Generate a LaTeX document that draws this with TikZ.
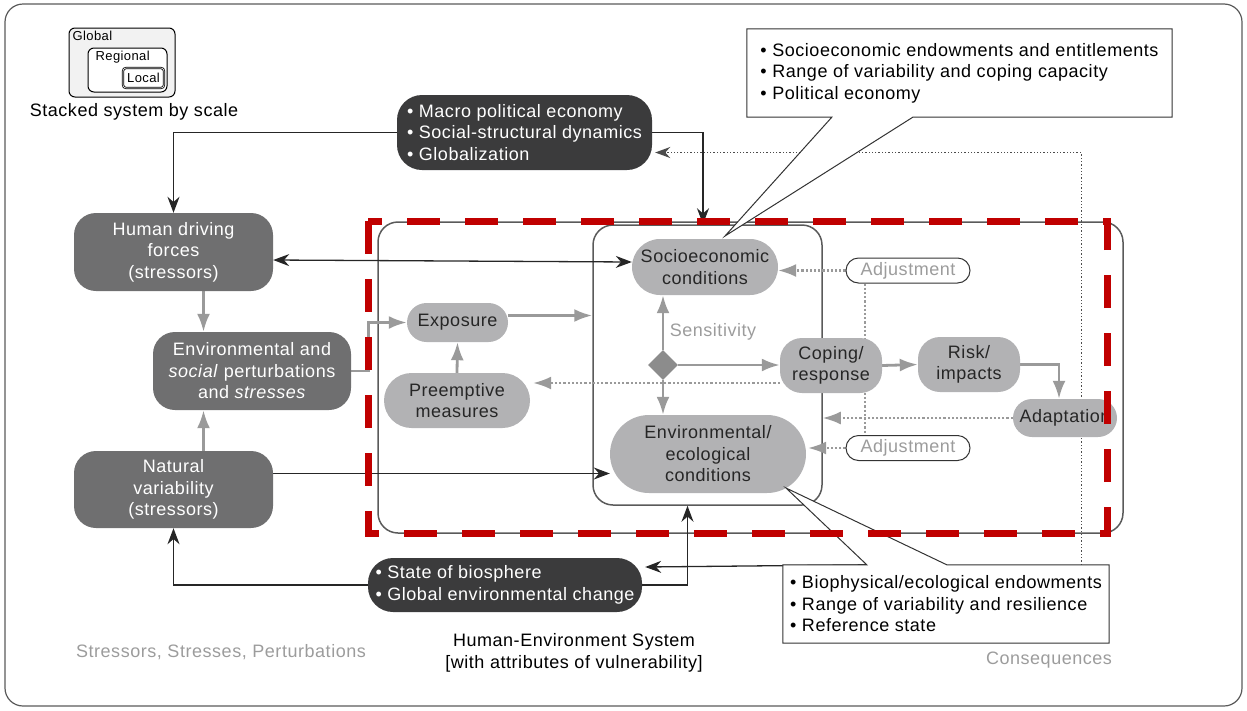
\documentclass[tikz,border=0pt]{standalone}
\usepackage{fontspec}
\setmainfont{Liberation Sans}[LetterSpace=3]
\usetikzlibrary{arrows.meta,shapes.geometric,backgrounds}
\definecolor{darkbox}{HTML}{3B3B3C}
\definecolor{midbox}{HTML}{6F6F70}
\definecolor{lightbox}{HTML}{B2B2B4}
\definecolor{arrowgray}{HTML}{9A9A9A}
\definecolor{labelgray}{HTML}{9C9C9C}
\definecolor{framegray}{HTML}{5A5A5A}
\definecolor{hazardred}{HTML}{C00000}

\tikzset{
  base/.style={font=\fontsize{18}{21.5}\selectfont, inner sep=0pt, align=center},
  small/.style={font=\fontsize{13}{15}\selectfont, inner sep=0pt},
  darkpill/.style={base, fill=darkbox, text=white, rounded corners=25pt, align=left},
  midpill/.style={base, fill=midbox, text=white, rounded corners=22pt},
  lightpill/.style={base, fill=lightbox, text=black!85},
  adjpill/.style={base, draw=black!80, line width=1pt, fill=white, text=labelgray,
    minimum width=124pt, minimum height=25pt, rounded corners=12.5pt},
  note/.style={base, align=left},
  callout/.style={draw=black!80, line width=1pt, fill=white},
  blk/.style={-{Stealth[length=16pt,width=12pt]}, line width=1.3pt, draw=black!85},
  blkdot/.style={-{Stealth[length=15pt,width=11pt]}, line width=1.3pt, draw=black!70, dotted},
  gry/.style={-{Latex[length=18pt,width=13pt]}, line width=2.8pt, draw=arrowgray},
  dotarr/.style={-{Latex[length=18pt,width=13pt]}, line width=2.2pt, draw=arrowgray, dotted},
  frame/.style={draw=framegray, line width=1.5pt, rounded corners=20pt, inner sep=0pt},
}

\begin{document}
\begin{tikzpicture}[x=1pt, y=-1pt]
    \useasboundingbox (0,0) rectangle (1247,710);
    \draw[framegray, line width=1.2pt, rounded corners=18pt] (5,4) rectangle (1242,706);

    % scale legend
    \node[draw, line width=1pt, rounded corners=6pt, fill=black!5, minimum width=106pt, minimum height=69pt, inner sep=0pt] (global) at (122,62.5) {};
    \node[draw, line width=1pt, rounded corners=6pt, fill=white, minimum width=79pt, minimum height=44pt, inner sep=0pt] (regional) at (127.5,70) {};
    \node[draw, double, line width=0.8pt, rounded corners=3pt, fill=white, minimum width=41pt, minimum height=20pt, inner sep=0pt] (local) at (143.5,78) {};
    \node[small, anchor=north west] (globaltxt) at ([shift={(4pt,-3pt)}]global.north west) {Global};
    \node[small, anchor=north west] (regionaltxt) at ([shift={(8pt,-3pt)}]regional.north west) {Regional};
    \node[small] (localtxt) at (local) {Local};
    \node[base] (stacklbl) at (134,112) {Stacked system by scale};

    % stressors column
    \node[darkpill, minimum width=255pt, minimum height=75pt] (macro) at (524.5,132.5)
        {\textbullet\ Macro political economy\\ \textbullet\ Social-structural dynamics\\ \textbullet\ Globalization};
    \node[midpill, minimum width=199pt, minimum height=78pt] (drivers) at (173.5,252) {Human driving\\ forces\\ (stressors)};
    \node[midpill, minimum width=198pt, minimum height=78pt] (perturb) at (252,371) {Environmental and\\ \textit{social} perturbations\\ and \textit{stresses}};
    \node[midpill, minimum width=199pt, minimum height=77pt] (natural) at (173.5,489.5) {Natural\\ variability\\ (stressors)};
    \node[darkpill, minimum width=274pt, minimum height=54pt] (biosphere) at (505,585)
        {\textbullet\ State of biosphere\\ \textbullet\ Global environmental change};

    % human-environment system
    \node[lightpill, minimum width=101pt, minimum height=39pt, rounded corners=19.5pt] (exposure) at (457.5,322.5) {Exposure};
    \node[lightpill, minimum width=146pt, minimum height=55pt, rounded corners=27.5pt] (preempt) at (457,400.5) {Preemptive\\ measures};
    \node[lightpill, minimum width=146pt, minimum height=56pt, rounded corners=28pt] (socio) at (705,267) {Socioeconomic\\ conditions};
    \node[lightpill, minimum width=196pt, minimum height=78pt, rounded corners=39pt] (enviro) at (708,454) {Environmental/\\ ecological\\ conditions};
    \node[diamond, fill=black!45, minimum size=30pt, inner sep=0pt] (sens) at (663,365) {};
    \node[base, text=labelgray] (senslbl) at (713,332) {Sensitivity};
    \node[lightpill, minimum width=102pt, minimum height=55pt, rounded corners=22pt] (coping) at (831,365.5) {Coping/\\ response};
    \node[lightpill, minimum width=102pt, minimum height=55pt, rounded corners=22pt] (risk) at (969,364.5) {Risk/\\ impacts};
    \node[lightpill, minimum width=104pt, minimum height=38pt, rounded corners=19pt] (adapt) at (1065,418) {Adaptation};
    \node[adjpill] (adjtop) at (908,270.5) {Adjustment};
    \node[adjpill] (adjbot) at (908,448) {Adjustment};

    % attribute callouts
    \coordinate (socpin) at (725,236);
    \coordinate (envpin) at (786,488);
    \node[note, minimum width=425pt, minimum height=88pt] (socnote) at (959.5,73) {};
    \draw[callout] ([xshift=85pt]socnote.south west) -- (socnote.south west) -- (socnote.north west)
        -- (socnote.north east) -- (socnote.south east) -- ([xshift=166pt]socnote.south west) -- (socpin) -- cycle;
    \node[note] (soctxt) at (socnote) {\textbullet\ Socioeconomic endowments and entitlements\\ \textbullet\ Range of variability and coping capacity\\ \textbullet\ Political economy};
    \node[note, minimum width=326pt, minimum height=78pt] (envnote) at (946,604) {};
    \draw[callout] ([xshift=84pt]envnote.north west) -- (envpin) -- ([xshift=164pt]envnote.north west)
        -- (envnote.north east) -- (envnote.south east) -- (envnote.south west) -- (envnote.north west) -- cycle;
    \node[note] (envtxt) at (envnote) {\textbullet\ Biophysical/ecological endowments\\ \textbullet\ Range of variability and resilience\\ \textbullet\ Reference state};

    % captions
    \node[base, text=labelgray] (stresslbl) at (221,652) {Stressors, Stresses, Perturbations};
    \node[base] (hesys) at (574,653) {Human-Environment System\\ {[with attributes of vulnerability]}};
    \node[base, text=labelgray] (conseq) at (1049,660) {Consequences};

    \begin{scope}[on background layer]
        \node[frame, minimum width=745pt, minimum height=311pt] (system) at (750.5,377.5) {};
        \node[frame, minimum width=229pt, minimum height=280pt] (inner) at (707.5,365) {};

        % outer connectors
        \draw[blk] (macro.west) -| (drivers.north);
        \draw[blk] (macro.east) -| ([xshift=-4.5pt]inner.north);
        \draw[blkdot] ([xshift=-28pt]envnote.north east) |- ([shift={(3pt,-20pt)}]macro.east);
        \draw[blk, {Stealth[length=16pt,width=12pt]}-{Stealth[length=16pt,width=12pt]}] ([yshift=-8pt]drivers.east) -- ([yshift=5pt]socio.west);
        \draw[gry] ([xshift=30pt]drivers.south) -- ([xshift=30pt]drivers.south |- perturb.north);
        \draw[gry] ([xshift=30pt]natural.north) -- ([xshift=30pt]natural.north |- perturb.south);
        \draw[gry] (perturb.east) -- ++(17,0) |- (exposure.west);
        \draw[blk] ([yshift=16pt]natural.east) -- ([yshift=16pt]natural.east -| enviro.west);
        \draw[blk] (biosphere.west) -| (natural.south);
        \draw[blk] (biosphere.east) -| ([xshift=-20pt]inner.south);
        \draw[blk] ([xshift=84pt]envnote.north west) -- ([shift={(3pt,18pt)}]biosphere.east);

        % inner connectors
        \draw[gry] (preempt.north) -- (exposure.south);
        \draw[gry] ([yshift=7pt]exposure.east) -- ([yshift=7pt]exposure.east -| inner.west);
        \draw[gry] (sens.north) -- (sens.north |- socio.south);
        \draw[gry] (sens.south) -- (sens.south |- enviro.north);
        \draw[gry] (sens.east) -- (sens.east -| coping.west);
        \draw[gry] (coping.east) -- (risk.west);
        \draw[gry] (risk.east) -| ([xshift=-6pt]adapt.north);
        \draw[dotarr] (adjtop.west) -- (adjtop.west -| socio.east);
        \draw[dotarr] (adjbot.west) -- ([xshift=2pt]adjbot.west -| enviro.east);
        \draw[arrowgray, line width=2.2pt, dotted] ([xshift=-43pt]adjtop.south) -- ([xshift=-43pt]adjbot.north);
        \draw[dotarr] (adapt.west) -- (adapt.west -| inner.east);
        \draw[dotarr] ([yshift=-17.5pt]coping.west) -- ([xshift=3pt,yshift=-17.5pt]coping.west -| preempt.east);
    \end{scope}

    % vulnerability boundary
    \draw[hazardred, line width=7pt, dash pattern=on 33pt off 25pt] (368,221) rectangle (1107,533);
\end{tikzpicture}
\end{document}
